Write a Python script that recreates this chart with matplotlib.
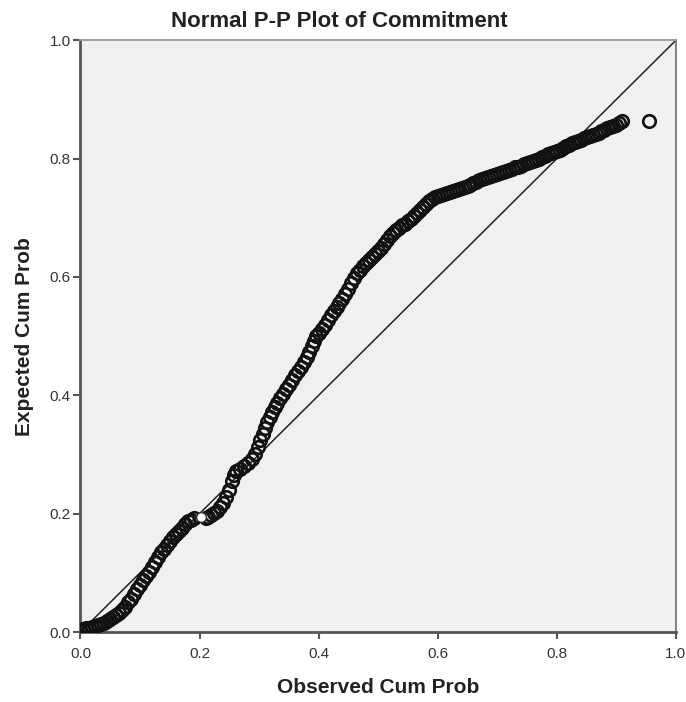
import matplotlib
matplotlib.use("Agg")
import matplotlib.pyplot as plt

plt.rcParams['font.family'] = ['Liberation Sans', 'DejaVu Sans']

# observed vs expected cumulative probability
obs_cum = [
    0.000, 0.005, 0.010, 0.015, 0.020, 0.025, 0.030, 0.035, 0.040, 0.045,
    0.050, 0.055, 0.060, 0.065, 0.070, 0.075, 0.080, 0.085, 0.090, 0.095,
    0.100, 0.105, 0.110, 0.115, 0.120, 0.125, 0.130, 0.135, 0.140, 0.145,
    0.150, 0.155, 0.160, 0.165, 0.170, 0.175, 0.180, 0.185, 0.190, 0.210,
    0.215, 0.220, 0.225, 0.230, 0.235, 0.240, 0.245, 0.250, 0.255, 0.258,
    0.262, 0.268, 0.275, 0.282, 0.288, 0.293, 0.298, 0.302, 0.306, 0.310,
    0.314, 0.318, 0.322, 0.326, 0.330, 0.335, 0.340, 0.345, 0.350, 0.355,
    0.360, 0.365, 0.370, 0.375, 0.380, 0.384, 0.388, 0.392, 0.396, 0.400,
    0.405, 0.410, 0.415, 0.420, 0.425, 0.430, 0.435, 0.440, 0.445, 0.450,
    0.455, 0.460, 0.465, 0.470, 0.475, 0.480, 0.485, 0.490, 0.495, 0.500,
    0.505, 0.510, 0.515, 0.520, 0.525, 0.530, 0.535, 0.540, 0.545, 0.550,
    0.555, 0.560, 0.565, 0.570, 0.575, 0.580, 0.585, 0.590, 0.595, 0.600,
    0.605, 0.610, 0.615, 0.620, 0.625, 0.630, 0.635, 0.640, 0.645, 0.650,
    0.655, 0.660, 0.665, 0.670, 0.675, 0.680, 0.685, 0.690, 0.695, 0.700,
    0.705, 0.710, 0.715, 0.720, 0.725, 0.730, 0.735, 0.740, 0.745, 0.750,
    0.755, 0.760, 0.765, 0.770, 0.775, 0.780, 0.785, 0.790, 0.795, 0.800,
    0.805, 0.810, 0.815, 0.820, 0.825, 0.830, 0.835, 0.840, 0.845, 0.850,
    0.855, 0.860, 0.865, 0.870, 0.875, 0.880, 0.885, 0.890, 0.895, 0.900,
    0.905, 0.910, 0.955,
]
exp_cum = [
    0.004, 0.005, 0.006, 0.007, 0.008, 0.010, 0.012, 0.014, 0.016, 0.019,
    0.022, 0.025, 0.028, 0.032, 0.037, 0.043, 0.050, 0.056, 0.064, 0.072,
    0.080, 0.088, 0.095, 0.102, 0.110, 0.118, 0.127, 0.135, 0.141, 0.147,
    0.153, 0.160, 0.166, 0.171, 0.176, 0.182, 0.187, 0.190, 0.193, 0.192,
    0.195, 0.198, 0.201, 0.205, 0.211, 0.218, 0.228, 0.240, 0.255, 0.266,
    0.272, 0.276, 0.280, 0.285, 0.292, 0.300, 0.312, 0.325, 0.335, 0.345,
    0.355, 0.364, 0.372, 0.380, 0.387, 0.395, 0.403, 0.411, 0.418, 0.426,
    0.434, 0.441, 0.448, 0.456, 0.465, 0.474, 0.483, 0.492, 0.500, 0.506,
    0.512, 0.519, 0.527, 0.535, 0.543, 0.550, 0.556, 0.563, 0.571, 0.580,
    0.589, 0.598, 0.606, 0.612, 0.618, 0.623, 0.628, 0.633, 0.638, 0.643,
    0.649, 0.656, 0.663, 0.670, 0.675, 0.679, 0.683, 0.687, 0.690, 0.694,
    0.698, 0.703, 0.708, 0.713, 0.718, 0.723, 0.728, 0.732, 0.735, 0.737,
    0.738, 0.740, 0.742, 0.744, 0.745, 0.747, 0.748, 0.750, 0.752, 0.754,
    0.756, 0.758, 0.761, 0.763, 0.765, 0.767, 0.769, 0.771, 0.773, 0.774,
    0.775, 0.777, 0.779, 0.781, 0.783, 0.785, 0.786, 0.788, 0.790, 0.792,
    0.794, 0.796, 0.798, 0.800, 0.803, 0.805, 0.807, 0.809, 0.811, 0.812,
    0.815, 0.818, 0.821, 0.823, 0.826, 0.828, 0.830, 0.832, 0.834, 0.836,
    0.838, 0.840, 0.842, 0.844, 0.847, 0.849, 0.851, 0.853, 0.855, 0.857,
    0.860, 0.863, 0.863,
]
# the one light (white filled) case near 0.2
light_obs = [0.202]
light_exp = [0.194]

ticks = [0.0, 0.2, 0.4, 0.6, 0.8, 1.0]
tick_labels = ['0.0', '0.2', '0.4', '0.6', '0.8', '1.0']

fig = plt.figure(figsize=(6.86, 7.02), dpi=100)
fig.patch.set_facecolor('white')
ax = fig.add_axes([0.1173, 0.0997, 0.868, 0.843])
ax.set_facecolor('#f0f0f0')

# reference diagonal
ax.plot([0, 1], [0, 1], color='#222222', lw=1.1, zorder=2)

ax.plot(obs_cum, exp_cum, linestyle='none', marker='o', markersize=9,
        markerfacecolor='none', markeredgecolor='#111111', markeredgewidth=1.9,
        zorder=3)
ax.plot(light_obs, light_exp, linestyle='none', marker='o', markersize=7,
        markerfacecolor='white', markeredgecolor='#333333', markeredgewidth=1.0,
        zorder=4)

ax.set_xlim(0, 1)
ax.set_ylim(0, 1)
ax.set_xticks(ticks)
ax.set_xticklabels(tick_labels)
ax.set_yticks(ticks)
ax.set_yticklabels(tick_labels)
ax.tick_params(direction='out', length=5, width=1.5, color='#555555',
               labelsize=11, labelcolor='#333333', pad=2)
ax.tick_params(axis='x', pad=6)

for side in ['left', 'bottom']:
    ax.spines[side].set_color('#555555')
    ax.spines[side].set_linewidth(2)
ax.spines['right'].set_color('#777777')
ax.spines['right'].set_linewidth(1.3)
ax.spines['top'].set_color('#999999')
ax.spines['top'].set_linewidth(1.3)

ax.set_xlabel('Observed Cum Prob', fontsize=15, fontweight='bold',
              color='#222222', labelpad=12)
ax.set_ylabel('Expected Cum Prob', fontsize=15, fontweight='bold',
              color='#222222', labelpad=11)
fig.text(0.495, 0.961, 'Normal P-P Plot of Commitment', ha='center',
         va='baseline', fontsize=16, fontweight='bold', color='#222222')

fig.savefig('out.png', dpi=100)
